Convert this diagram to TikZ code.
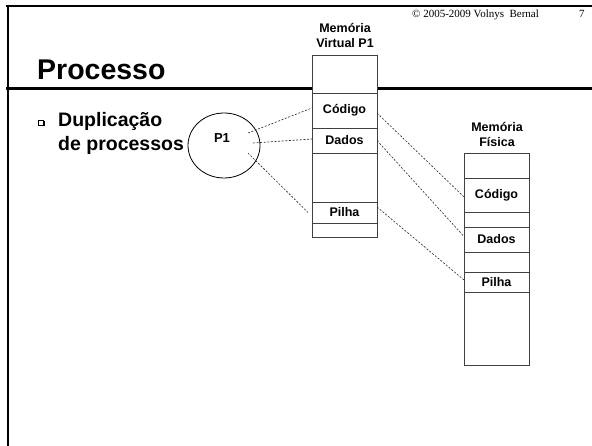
\documentclass[tikz,border=0pt]{standalone}
\usepackage{fontspec}
\setmainfont{Liberation Sans}
\newfontfamily\timesf{Liberation Serif}
\usetikzlibrary{shapes.geometric}
\tikzset{
  frameline/.style={line width=2.5pt, black},
  sec/.style={draw=black!75, line width=0.9pt, fill=white, rectangle, minimum width=65pt, inner sep=0pt, outer sep=0pt, font=\bfseries\fontsize{12.5}{14}\selectfont},
  lbl/.style={font=\bfseries\fontsize{12.5}{15}\selectfont, inner sep=0pt, anchor=base},
  conn/.style={line width=0.6pt, black!85, dash pattern=on 2pt off 1.6pt},
  bigtext/.style={font=\bfseries\fontsize{19.5}{24}\selectfont, inner sep=0pt, anchor=base west}
}
\begin{document}
\begin{tikzpicture}[x=1pt, y=-1pt]
\useasboundingbox (0,0) rectangle (592,446);
% frame
\draw[frameline] (6,6) -- (592,6);
\draw[frameline] (7.8,5) -- (7.8,446);
\draw[line width=3pt] (6,89) -- (592,89);
% header
\node[font=\timesf\fontsize{11}{13}\selectfont, inner sep=0pt, anchor=base west] (copy) at (412,18) {© 2005-2009 Volnys\ \ Bernal};
\node[font=\timesf\fontsize{11}{13}\selectfont, inner sep=0pt, anchor=base west] (pg) at (579,18) {7};
\node[font=\bfseries\fontsize{28.5}{32}\selectfont, inner sep=0pt, anchor=base west] (title) at (37,80) {Processo};
% bullet
\draw[line width=0.6pt] (38.5,120) rectangle (43.5,125);
\draw[line width=1pt] (39.5,126) -- (44.5,126) -- (44.5,121);
\node[bigtext] (t1) at (58,127) {Duplicação};
\node[bigtext] (t2) at (58,151) {de processos};
% process ellipse
\node[draw, ellipse, line width=0.8pt, minimum width=72pt, minimum height=65pt, inner sep=0pt] (pe) at (224,145.5) {};
\node[lbl, font=\bfseries\fontsize{13}{15}\selectfont] (p1) at (222,143) {P1};
% virtual memory
\node[lbl] (vl1) at (345,33) {Memória};
\node[lbl] (vl2) at (345,48) {Virtual P1};
\node[sec, minimum height=38pt] (vtop) at (344.5,74) {};
\node[sec, minimum height=35pt] (vcod) at (344.5,110.5) {Código};
\node[sec, minimum height=25pt] (vdad) at (344.5,140.5) {Dados};
\node[sec, minimum height=49pt] (vemp) at (344.5,177.5) {};
\node[sec, minimum height=21pt] (vpil) at (344.5,212.5) {Pilha};
\node[sec, minimum height=14pt] (vbot) at (344.5,230) {};
% physical memory
\node[lbl] (fl1) at (497,132) {Memória};
\node[lbl] (fl2) at (497,147) {Física};
\node[sec, minimum height=25pt] (ftop) at (496.5,165.5) {};
\node[sec, minimum height=34pt] (fcod) at (496.5,195) {Código};
\node[sec, minimum height=15pt] (fg1) at (496.5,219.5) {};
\node[sec, minimum height=25pt] (fdad) at (496.5,239.5) {Dados};
\node[sec, minimum height=20pt] (fg2) at (496.5,262) {};
\node[sec, minimum height=20pt] (fpil) at (496.5,282) {Pilha};
\node[sec, minimum height=73pt] (fbot) at (496.5,328.5) {};
% connectors
\coordinate (s1) at (248,133);
\coordinate (s2) at (253,143);
\coordinate (s3) at (248,153);
\draw[conn] (s1) -- ([yshift=2.5pt]vcod.west);
\draw[conn] (s2) -- ([yshift=1.5pt]vdad.west);
\draw[conn] (s3) -- ([xshift=-4pt]vpil.west);
\draw[conn] ([yshift=-2.5pt]vcod.east) -- ([yshift=-2pt]fcod.west);
\draw[conn] (vdad.east) -- ([yshift=3pt]fdad.west);
\draw[conn] ([yshift=5.5pt]vpil.east) -- ([yshift=2pt]fpil.west);
\end{tikzpicture}
\end{document}
